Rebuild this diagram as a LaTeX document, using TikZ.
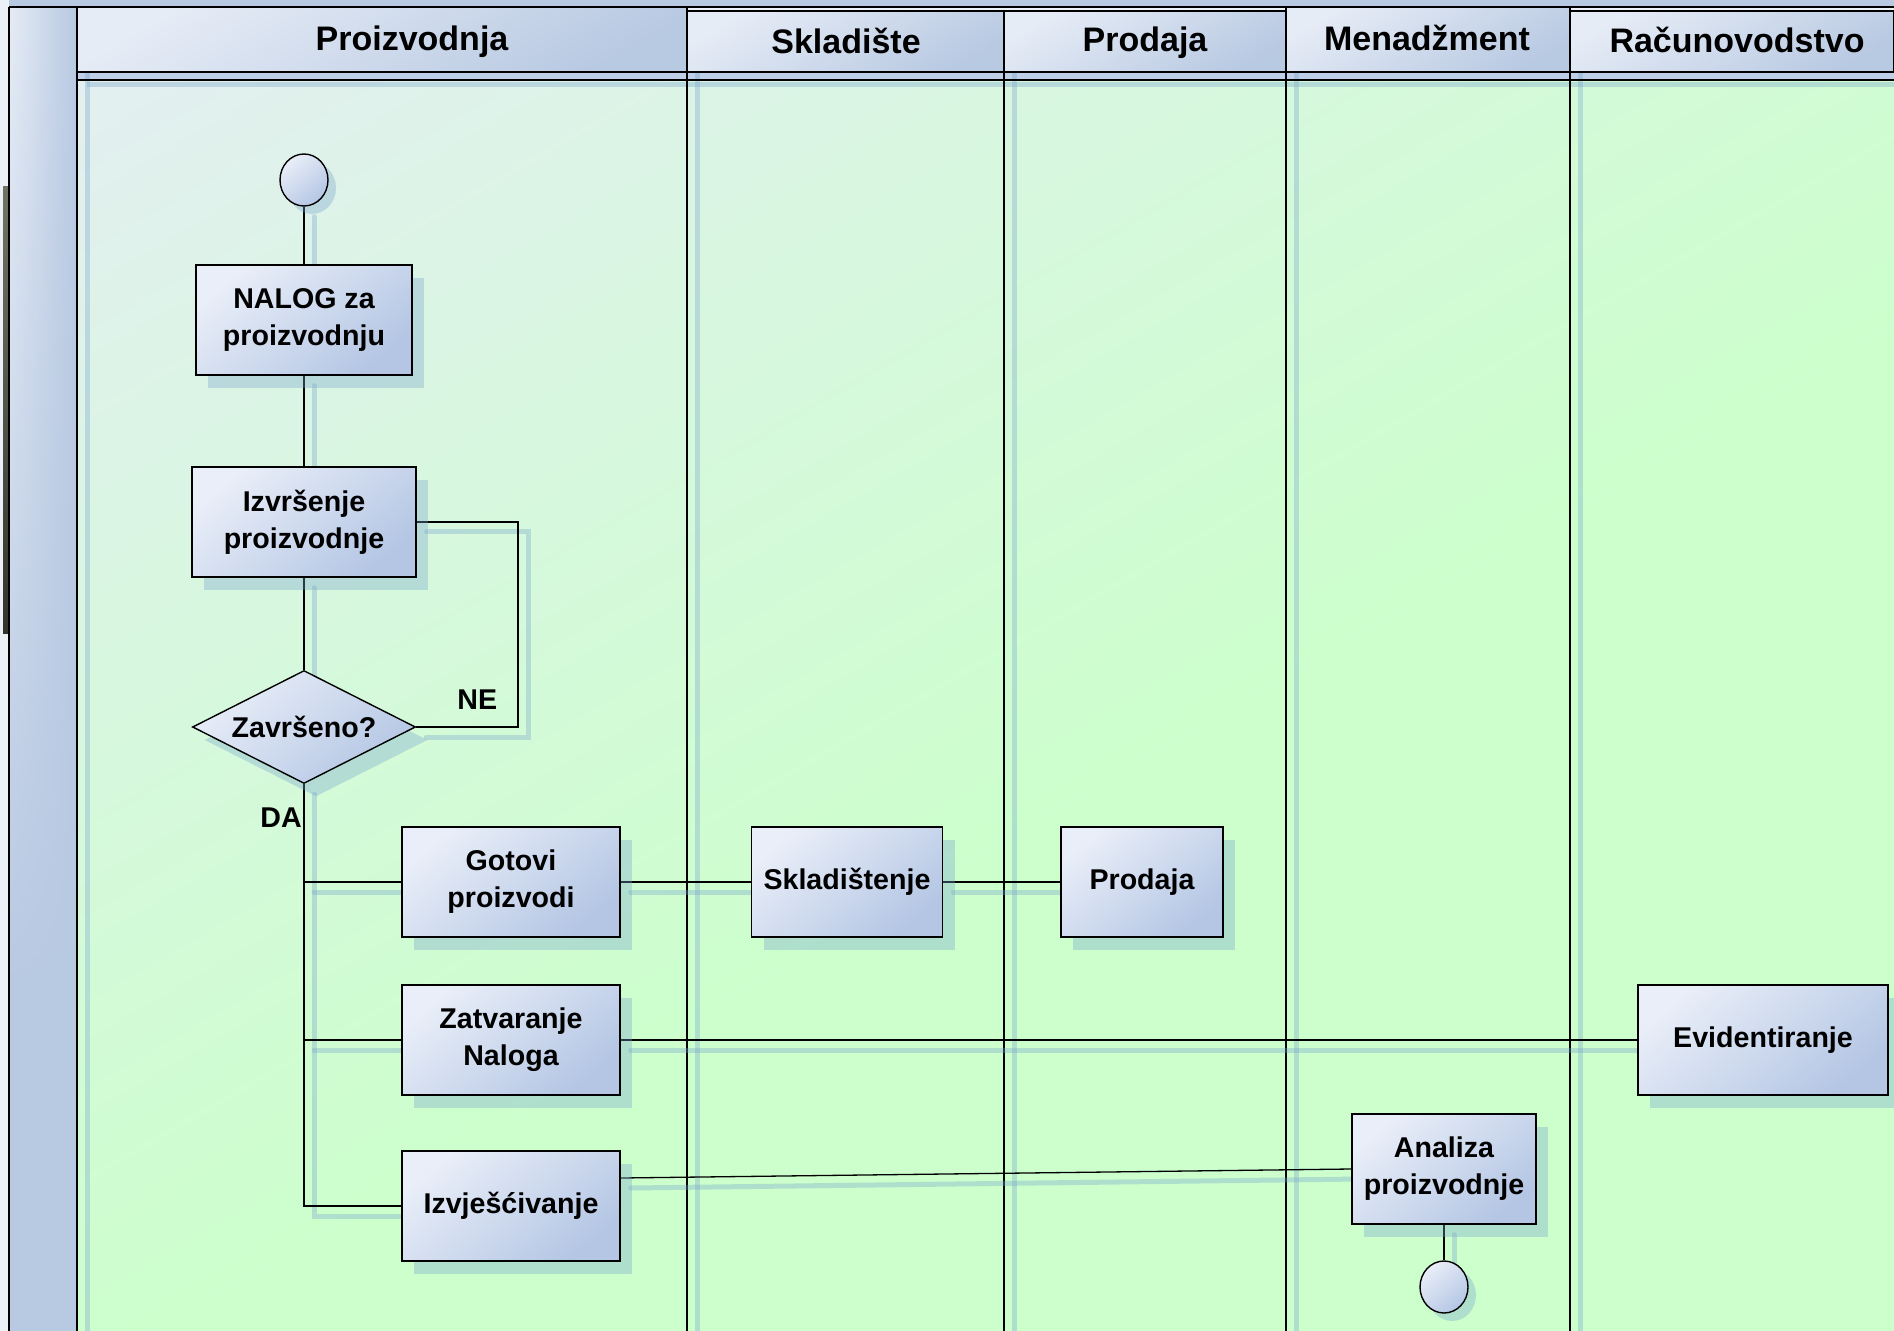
\documentclass[tikz,border=0pt]{standalone}
\usepackage{fontspec}
\setmainfont{Liberation Sans}
\usetikzlibrary{shapes.geometric,shadows,fadings}

\definecolor{laneblue}{RGB}{184,201,226}
\definecolor{paleblue}{RGB}{230,236,246}
\definecolor{edgewhite}{RGB}{236,241,248}
\definecolor{bgblue}{RGB}{230,237,246}
\definecolor{bggreen}{RGB}{204,255,204}
\definecolor{stripblue}{RGB}{190,207,231}
\definecolor{shadowc}{RGB}{120,165,205}
\definecolor{nodelight}{RGB}{233,238,248}
\definecolor{nodedark}{RGB}{180,198,228}
\definecolor{edgedark}{RGB}{112,116,100}
\definecolor{edgedarker}{RGB}{50,52,45}

\pgfdeclareverticalshading{lanebg}{100bp}{color(0bp)=(bggreen); color(45bp)=(bggreen); color(66bp)=(bggreen!55!bgblue); color(90bp)=(bgblue); color(100bp)=(bgblue)}

\pgfdeclarelayer{back}
\pgfdeclarelayer{links}
\pgfsetlayers{back,links,main}

\begin{document}
\begin{tikzpicture}[x=0.5pt, y=-0.5pt, font=\bfseries\fontsize{14.3}{18.5}\selectfont]
		\tikzstyle{activity} = [rectangle, draw, line width=0.7pt, top color=nodelight, bottom color=nodedark, shading angle=40, align=center, inner sep=2pt, minimum height=55pt, drop shadow={shadow xshift=6pt, shadow yshift=-6.5pt, fill=shadowc, opacity=0.35}]
		\tikzstyle{decision} = [diamond, draw, line width=0.7pt, top color=nodelight, bottom color=nodedark, shading angle=40, aspect=2, inner sep=0pt, minimum width=111.5pt, minimum height=56.5pt, drop shadow={shadow xshift=6pt, shadow yshift=-6.5pt, fill=shadowc, opacity=0.35}]
		\tikzstyle{terminal} = [ellipse, draw, line width=0.7pt, top color=nodelight, bottom color=nodedark, shading angle=40, inner sep=0pt, minimum width=24pt, minimum height=26pt, drop shadow={shadow xshift=4pt, shadow yshift=-4pt, fill=shadowc, opacity=0.35}]
		\tikzstyle{link} = [draw, line width=0.65pt, preaction={draw=shadowc, draw opacity=0.35, line width=2.5pt, line cap=round, transform canvas={shift={(5pt,-5pt)}}}]
		\tikzstyle{lanehead} = [draw, line width=0.8pt, top color=paleblue, bottom color=laneblue, shading angle=30]
		\tikzstyle{headtext} = [font=\bfseries\fontsize{17}{20}\selectfont]

		\useasboundingbox (0,0) rectangle (1894,1331);

		% Pool, lanes and headers
		\begin{pgfonlayer}{back}
		\fill[edgewhite] (0,0) rectangle (1894,1331);
		\shade[top color=edgedark, bottom color=edgedarker] (3,187) rectangle (9,633);
		\fill[laneblue] (9,0) rectangle (1894,7);
		\shade[shading=lanebg, shading angle=30] (77,80) rectangle (1894,1331);
		\fill[laneblue] (9,7) rectangle (77,1331);
		\shade[left color=paleblue, right color=laneblue, path fading=south] (9,7) rectangle (77,1000);
		\fill[stripblue] (77,72) rectangle (1894,80);
		\foreach \x in {77,687,1004,1286,1570}
			\draw[shadowc, opacity=0.35, line width=2.5pt] (\x+10,72) -- (\x+10,1331);
		\draw[shadowc, opacity=0.35, line width=2.5pt] (87,85) -- (1894,85);
		\foreach \x in {687,1004,1286,1570}
			\draw[line width=0.8pt] (\x,72) -- (\x,1331);
		\draw[line width=0.8pt] (9,7) -- (1894,7) (9,7) -- (9,1331) (77,7) -- (77,1331) (77,72) -- (1894,72) (77,80) -- (1894,80);
		\foreach \xa/\xb/\yt in {77/687/7, 687/1004/11, 1004/1286/11, 1286/1570/7, 1570/1894/11}
			\shade[lanehead] (\xa,\yt) rectangle (\xb,72);
		\end{pgfonlayer}

		% Lane titles
		\node[headtext] (hProizv) at (412,42) {Proizvodnja};
		\node[headtext] (hSklad) at (846,41) {Skladište};
		\node[headtext] (hProdaja) at (1145,43) {Prodaja};
		\node[headtext] (hMenadz) at (1427,38) {Menadžment};
		\node[headtext] (hRacun) at (1737,40) {Računovodstvo};

		% Define nodes
		\node[terminal] (start) at (304,180) {};
		\node[activity, minimum width=108pt] (nalog) [node distance=70pt, below of=start] {NALOG za\\proizvodnju};
		\node[activity, minimum width=112pt] (izvr) [node distance=101pt, below of=nalog] {Izvršenje\\proizvodnje};
		\node[decision] (dec) [node distance=102.5pt, below of=izvr] {Završeno?};
		\node[activity, minimum width=109pt] (gotovi) at (511,882) {Gotovi\\proizvodi};
		\node[activity, minimum width=109pt] (zatv) [node distance=79pt, below of=gotovi] {Zatvaranje\\Naloga};
		\node[activity, minimum width=109pt] (izvj) [node distance=83pt, below of=zatv] {Izvješćivanje};
		\node[activity, minimum width=95.5pt] (sklad) [node distance=168pt, right of=gotovi] {Skladištenje};
		\node[activity, minimum width=81pt] (prodaja) [node distance=147.5pt, right of=sklad] {Prodaja};
		\node[activity, minimum width=125pt] (evid) [node distance=626pt, right of=zatv] {Evidentiranje};
		\node[activity, minimum width=92pt] (analiza) at (1444,1169) {Analiza\\proizvodnje};
		\node[terminal] (end) [node distance=59pt, below of=analiza] {};
		\coordinate (loop) at (518,727);

		% Draw edges
		\begin{pgfonlayer}{links}
		\draw[link] (start) -- (nalog);
		\draw[link] (nalog) -- (izvr);
		\draw[link] (izvr) -- (dec);
		\draw[link] (dec.east) -- (loop) node[pos=0.6, above, yshift=5pt] {NE} |- (izvr.east);
		\draw[link] (dec.south) |- (izvj.west) node[pos=0.04, left, xshift=2.5pt] {DA};
		\draw[link] (dec.south |- gotovi.west) -- (gotovi.west);
		\draw[link] (dec.south |- zatv.west) -- (zatv.west);
		\draw[link] (gotovi) -- (sklad);
		\draw[link] (sklad) -- (prodaja);
		\draw[link] (zatv) -- (evid);
		\draw[link] ([yshift=14pt]izvj.east) -- (analiza.west);
		\draw[link] (analiza) -- (end);
		\end{pgfonlayer}

		\end{tikzpicture}
\end{document}
